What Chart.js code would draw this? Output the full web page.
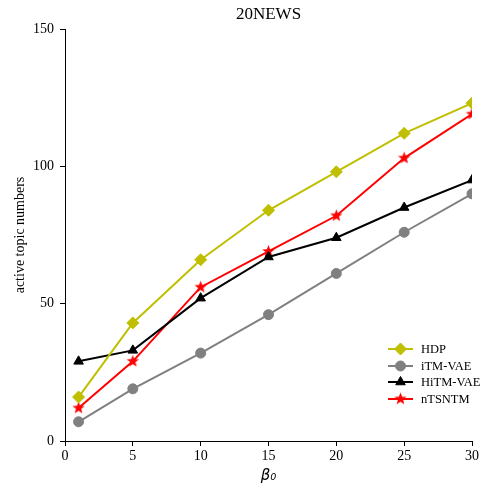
<!DOCTYPE html>
<html><head><meta charset="utf-8">
<script src="https://cdn.jsdelivr.net/npm/chart.js@4"></script>
<style>html,body{margin:0;padding:0;background:#fff}#wrap{width:481px;height:485px}</style>
</head><body><div id="wrap"><canvas id="c" width="481" height="485"></canvas></div>
<script>
const xValues = [1, 5, 10, 15, 20, 25, 30];
const seriesNames = ['HDP', 'iTM-VAE', 'HiTM-VAE', 'nTSNTM'];
const hdp = [16, 43, 66, 84, 98, 112, 123];
const itmvae = [7, 19, 32, 46, 61, 76, 90];
const hitmvae = [29, 33, 52, 67, 74, 85, 95];
const ntsntm = [12, 29, 56, 69, 82, 103, 119];
const titleText = '20NEWS';
const yTitle = 'active topic numbers';
const xTitle = 'β₀';

function starImg(r, color) {
  const c = document.createElement('canvas');
  const s = Math.ceil(r * 2 + 2);
  c.width = s; c.height = s;
  const g = c.getContext('2d');
  g.fillStyle = color;
  g.beginPath();
  for (let i = 0; i < 10; i++) {
    const rr = i % 2 === 0 ? r : r * 0.42;
    const a = -Math.PI / 2 + i * Math.PI / 5;
    const px = s / 2 + rr * Math.cos(a), py = s / 2 + rr * Math.sin(a);
    if (i === 0) g.moveTo(px, py); else g.lineTo(px, py);
  }
  g.closePath(); g.fill();
  return c;
}
const star = starImg(6.5, '#ff0000');

const toPts = arr => arr.map((v, i) => ({x: xValues[i], y: v}));
const colors = ['#bfbf00', '#808080', '#000000', '#ff0000'];
const styles = ['rectRot', 'circle', 'triangle', star];
const radii = [6, 5, 5.5, 6.5];
const data = [hdp, itmvae, hitmvae, ntsntm];

const datasets = data.map((d, i) => ({
  label: seriesNames[i], data: toPts(d), borderColor: colors[i], backgroundColor: colors[i],
  borderWidth: 2, pointStyle: styles[i], pointRadius: radii[i], pointBorderWidth: 1,
  pointBackgroundColor: colors[i], pointBorderColor: colors[i], tension: 0
}));

const serif = "'Liberation Serif', 'Times New Roman', serif";

const deco = {
  id: 'deco',
  afterDraw(chart) {
    const ctx = chart.ctx, a = chart.chartArea;
    ctx.save();
    ctx.fillStyle = '#000';
    ctx.font = '17px ' + serif;
    ctx.textAlign = 'center'; ctx.textBaseline = 'middle';
    ctx.fillText(titleText, (a.left + a.right) / 2, 15);
    const rows = [349, 366, 382, 399];
    ctx.font = '12.5px ' + serif;
    ctx.textAlign = 'left';
    chart.data.datasets.forEach((ds, i) => {
      const y = rows[i];
      ctx.strokeStyle = ds.borderColor; ctx.lineWidth = 2;
      ctx.beginPath(); ctx.moveTo(388, y); ctx.lineTo(413, y); ctx.stroke();
      ctx.fillStyle = ds.backgroundColor; ctx.lineWidth = 1;
      Chart.helpers.drawPoint(ctx, {pointStyle: ds.pointStyle, radius: ds.pointRadius, borderWidth: 1}, 400.5, y);
      ctx.fillStyle = '#000';
      ctx.fillText(ds.label, 421, y + 1);
    });
    ctx.restore();
  }
};

new Chart(document.getElementById('c'), {
  type: 'line',
  data: {datasets},
  options: {
    responsive: false, animation: false, devicePixelRatio: 1,
    layout: {padding: {top: 29, right: 8, left: 0, bottom: 0}},
    plugins: {legend: {display: false}, title: {display: false}, tooltip: {enabled: false}},
    scales: {
      x: {
        type: 'linear', min: 0, max: 30,
        ticks: {stepSize: 5, color: '#000', font: {family: serif, size: 14}, padding: 2, maxRotation: 0},
        grid: {drawOnChartArea: false, drawTicks: true, tickLength: 5, color: '#000'},
        border: {display: true, color: '#000', width: 1},
        title: {display: true, text: xTitle, color: '#000', font: {family: "'DejaVu Sans', sans-serif", size: 15, style: 'italic'}, padding: {top: 3, bottom: 0}},
        afterFit(s) { s.height = 44; }
      },
      y: {
        min: 0, max: 150,
        ticks: {stepSize: 50, color: '#000', font: {family: serif, size: 14}, padding: 6},
        grid: {drawOnChartArea: false, drawTicks: true, tickLength: 5, color: '#000'},
        border: {display: true, color: '#000', width: 1},
        title: {display: true, text: yTitle, color: '#000', font: {family: serif, size: 14}, padding: {top: 12, bottom: 4}},
        afterFit(s) { s.width = 65; }
      }
    }
  },
  plugins: [deco]
});
</script></body></html>
